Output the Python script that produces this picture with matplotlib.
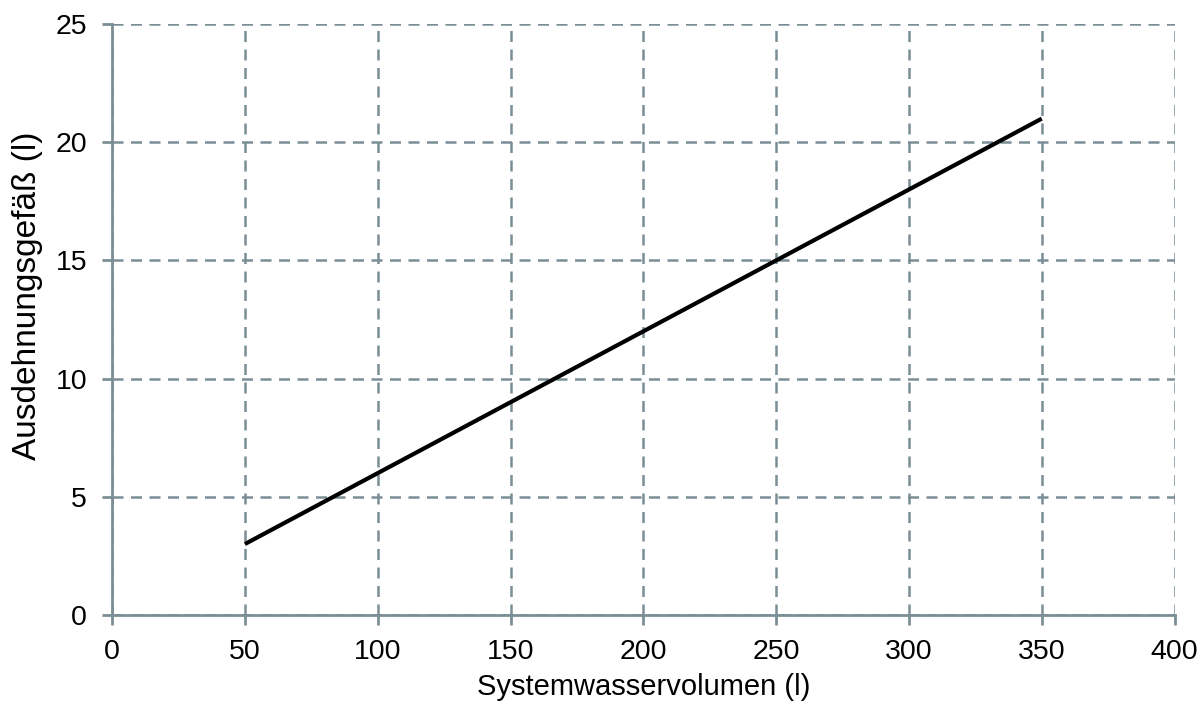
import numpy as np
import matplotlib.pyplot as plt

plt.rcParams['font.family'] = ['Liberation Sans', 'DejaVu Sans']

volume = [50, 350]
vessel = [3, 21]
x_ticks = [0, 50, 100, 150, 200, 250, 300, 350, 400]
y_ticks = [0, 5, 10, 15, 20, 25]

grey = '#7b8e96'

fig = plt.figure(figsize=(12.01, 7.08), dpi=100)
ax = fig.add_axes([0.0933, 0.1314, 0.8847, 0.8346])

ax.plot(volume, vessel, color='black', lw=3, solid_capstyle='butt', zorder=3)

ax.set_xlim(0, 400)
ax.set_ylim(0, 25)
ax.set_xticks(x_ticks)
ax.set_yticks(y_ticks)
ax.grid(True, color=grey, ls=(0, (4.4, 3.0)), lw=1.8)

for side in ['top', 'right']:
    ax.spines[side].set_visible(False)
for side in ['left', 'bottom']:
    ax.spines[side].set_color(grey)
    ax.spines[side].set_linewidth(2)

ax.tick_params(colors=grey, width=2, length=7, labelsize=20.5, labelcolor='black')
ax.tick_params(axis='x', pad=10)
ax.tick_params(axis='y', pad=11)

ax.set_xlabel('Systemwasservolumen (l)', fontsize=21, labelpad=6)
ax.set_ylabel('Ausdehnungsgefäß (l)', fontsize=24, labelpad=9)
ax.yaxis.label.set_y(0.54)

fig.savefig('out.png', dpi=100)
